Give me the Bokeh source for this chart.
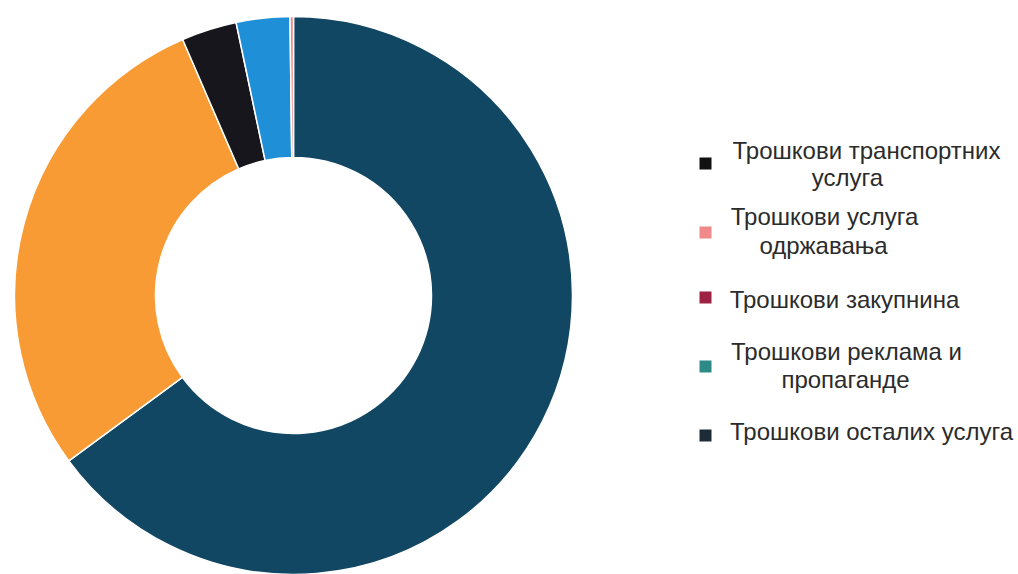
import math
from bokeh.plotting import figure
from bokeh.models import Range1d, ColumnDataSource
from bokeh.core.properties import value
from bokeh.embed import file_html
from bokeh.resources import INLINE

# ---- data (clockwise from 12 o'clock) ----
slice_names = ["Трошкови осталих услуга", "Остали трошкови", "Трошкови транспортних услуга",
               "Трошкови реклама и пропаганде", "Трошкови услуга одржавања"]
slice_values = [64.9, 28.6, 3.2, 3.1, 0.2]
slice_colors = ["#114763", "#f99b34", "#16161c", "#1f8fd8", "#f3868a"]

legend_labels = ["Трошкови транспортних\nуслуга", "Трошкови услуга\nодржавања", "Трошкови закупнина",
                 "Трошкови реклама и\nпропаганде", "Трошкови осталих услуга"]
legend_colors = ["#111111", "#f08a8a", "#9e2244", "#2e8a86", "#1d2b36"]

# ---- layout (screen pixels) ----
W, H = 1018, 574
def sy(y):
    return H - y

p = figure(width=W, height=H, output_backend="svg", toolbar_location=None,
           x_range=Range1d(0, W), y_range=Range1d(0, H),
           x_axis_type=None, y_axis_type=None, min_border=0)
p.grid.visible = False
p.outline_line_color = None
p.background_fill_color = "white"
p.border_fill_color = "white"

total = sum(slice_values)
starts, ends = [], []
cum = 0.0
for v in slice_values:
    starts.append(math.pi / 2 - 2 * math.pi * cum / total)
    cum += v
    ends.append(math.pi / 2 - 2 * math.pi * cum / total)
src = ColumnDataSource(dict(name=slice_names, value=slice_values, color=slice_colors,
                            start=starts, end=ends))
p.annular_wedge(x=293, y=sy(295), inner_radius=138, outer_radius=279,
                start_angle="start", end_angle="end", direction="clock",
                fill_color="color", line_color="white", line_width=1.5, source=src)

# legend
marker_y = [163, 232, 297, 366, 435]
line_base = [[150, 177], [216, 245], [299], [351, 379], [431]]
line_cx = [[866, 847], [824, 823], [844], [846, 845], [871]]
p.scatter(x=[705] * len(legend_colors), y=[sy(v) for v in marker_y], marker="square",
          size=12, fill_color=legend_colors, line_color=None)
tx, ty, tt = [], [], []
for lab, ys, xs in zip(legend_labels, line_base, line_cx):
    for line, yy, xx in zip(lab.split("\n"), ys, xs):
        tx.append(xx); ty.append(sy(yy)); tt.append(line)
p.text(x=tx, y=ty, text=tt, text_align="center", text_baseline="alphabetic",
       text_font=value("Liberation Sans"), text_font_size="24px", text_color="#2b2b2b")

open("out.html", "w").write(file_html(p, INLINE))
